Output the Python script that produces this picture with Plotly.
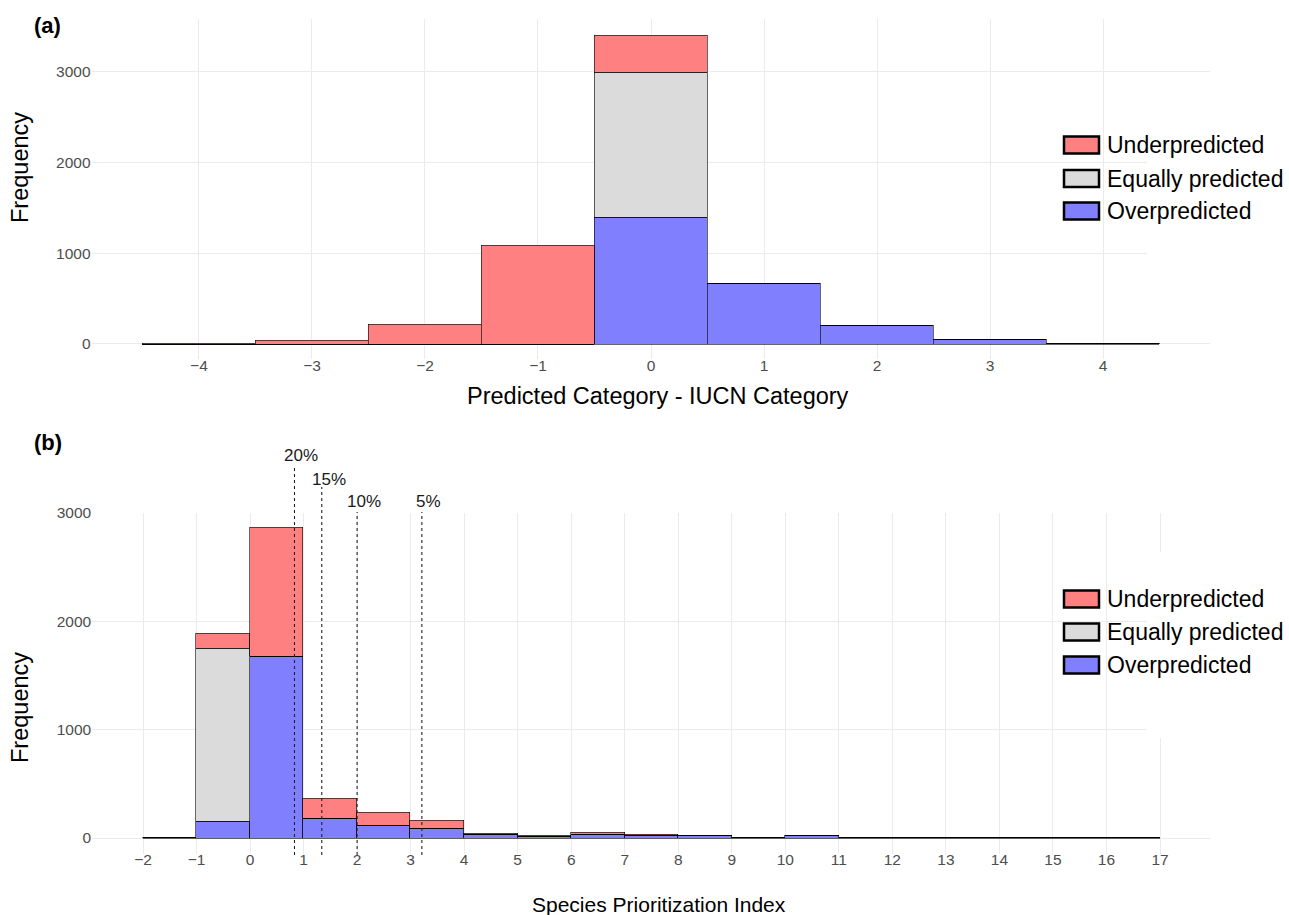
import plotly.graph_objects as go

W, H = 1289, 915

# ---------------- data: panel (a) ----------------
cat_a = [-4, -3, -2, -1, 0, 1, 2, 3, 4]
under_a = [5, 35, 214, 1092, 408, 0, 0, 0, 0]
equal_a = [0, 0, 0, 0, 1600, 0, 0, 0, 0]
over_a = [0, 0, 0, 0, 1401, 672, 202, 52, 3]

# ---------------- data: panel (b) ----------------
bin_left_b = list(range(-2, 17))
under_b = [0, 139, 1185, 185, 123, 74, 4, 10, 20, 11, 3, 0, 2, 0, 5, 0, 0, 0, 0]
equal_b = [0, 1594, 0, 0, 0, 0, 0, 0, 0, 0, 0, 0, 0, 0, 0, 0, 0, 0, 0]
over_b = [1, 154, 1677, 179, 111, 89, 36, 15, 32, 20, 22, 1, 20, 1, 4, 1, 1, 1, 1]

thresholds = [0.83, 1.34, 2.0, 3.21]
threshold_labels = ["20%", "15%", "10%", "5%"]

ticks_a = [-4, -3, -2, -1, 0, 1, 2, 3, 4]
ticks_b = list(range(-2, 18))
ticks_y = [0, 1000, 2000, 3000]

series_names = ["Underpredicted", "Equally predicted", "Overpredicted"]
colors = {"Underpredicted": "#FF8080", "Equally predicted": "#DBDBDB", "Overpredicted": "#8080FF"}

FONT = "Liberation Sans, Arial, sans-serif"
OUT = "rgba(0,0,0,0.75)"


def px_x(p):
    return p / W


def px_y(p):
    return 1 - p / H


fig = go.Figure()

# stacked order: over (bottom), equal, under (top)
for name, vals in [("Overpredicted", over_a), ("Equally predicted", equal_a), ("Underpredicted", under_a)]:
    fig.add_trace(go.Bar(x=cat_a, y=vals, width=1, name=name, xaxis="x", yaxis="y",
                         marker=dict(color=colors[name], line=dict(color=OUT, width=0.8)),
                         showlegend=False))

centers_b = [l + 0.5 for l in bin_left_b]
for name, vals in [("Overpredicted", over_b), ("Equally predicted", equal_b), ("Underpredicted", under_b)]:
    fig.add_trace(go.Bar(x=centers_b, y=vals, width=1, name=name, xaxis="x2", yaxis="y2",
                         marker=dict(color=colors[name], line=dict(color=OUT, width=0.8)),
                         showlegend=False))

grid = "#EBEBEB"
tickfont = dict(family=FONT, size=15.5, color="#4D4D4D")
common = dict(showgrid=True, gridcolor=grid, gridwidth=1, zeroline=False, showline=False,
              ticks="", tickfont=tickfont, automargin=False)

shapes = []
annotations = []

# white patches that hide parts of the grid behind the legends (as in the reference)
for (y0, y1) in [(85, 271), (552, 738)]:
    shapes.append(dict(type="rect", xref="paper", yref="paper", x0=px_x(1147), x1=px_x(1289),
                       y0=px_y(y1), y1=px_y(y0), fillcolor="white", line=dict(width=0), layer="above"))

# threshold dashed lines in panel (b)
line_tops = [465, 487, 512, 512]
label_ys = [455.7, 479, 501.7, 501.7]
for t, lab, top, ly in zip(thresholds, threshold_labels, line_tops, label_ys):
    shapes.append(dict(type="line", xref="x2", yref="paper", x0=t, x1=t, y0=px_y(855), y1=px_y(top),
                       line=dict(color="#222222", width=1.1, dash="3px,3px"), layer="above"))
    annotations.append(dict(x=t, xref="x2", y=px_y(ly), yref="paper", text=lab, showarrow=False,
                            xanchor="center", yanchor="middle", xshift=7,
                            font=dict(family=FONT, size=17, color="#1A1A1A")))

# manual legends
for centers in [(145, 178.5, 211), (599, 632, 665)]:
    for name, cy in zip(series_names, centers):
        shapes.append(dict(type="rect", xref="paper", yref="paper", x0=px_x(1064), x1=px_x(1099),
                           y0=px_y(cy + 8.5), y1=px_y(cy - 8.5), fillcolor=colors[name],
                           line=dict(color="black", width=2.5), layer="above"))
        annotations.append(dict(x=px_x(1105), y=px_y(cy), xref="paper", yref="paper", text=name,
                                showarrow=False, xanchor="left", yanchor="middle",
                                font=dict(family=FONT, size=23, color="black")))

# axis titles & panel tags
title_font = dict(family=FONT, size=23.5, color="black")
annotations += [
    dict(x=px_x(658), y=px_y(396), xref="paper", yref="paper", text="Predicted Category - IUCN Category",
         showarrow=False, xanchor="center", yanchor="middle", font=title_font),
    dict(x=px_x(659), y=px_y(904), xref="paper", yref="paper", text="Species Prioritization Index",
         showarrow=False, xanchor="center", yanchor="middle", font=dict(family=FONT, size=21, color="black")),
    dict(x=px_x(20), y=px_y(168), xref="paper", yref="paper", text="Frequency", textangle=-90,
         showarrow=False, xanchor="center", yanchor="middle", font=title_font),
    dict(x=px_x(20), y=px_y(708), xref="paper", yref="paper", text="Frequency", textangle=-90,
         showarrow=False, xanchor="center", yanchor="middle", font=title_font),
    dict(x=px_x(47), y=px_y(25), xref="paper", yref="paper", text="<b>(a)</b>",
         showarrow=False, xanchor="center", yanchor="middle", font=dict(family=FONT, size=22, color="black")),
    dict(x=px_x(48), y=px_y(442), xref="paper", yref="paper", text="<b>(b)</b>",
         showarrow=False, xanchor="center", yanchor="middle", font=dict(family=FONT, size=22, color="black")),
]

fig.update_layout(
    width=W, height=H, margin=dict(l=0, r=0, t=0, b=0, pad=0, autoexpand=False),
    paper_bgcolor="white", plot_bgcolor="white",
    barmode="stack", bargap=0, showlegend=False,
    font=dict(family=FONT),
    xaxis=dict(domain=[px_x(91.6), px_x(1210.4)], range=[-4.95, 4.95], tickvals=ticks_a,
               anchor="y", **common),
    yaxis=dict(domain=[px_y(359.4), px_y(19.4)], range=[-170, 3580], tickvals=ticks_y,
               anchor="x", **common),
    xaxis2=dict(domain=[px_x(92.15), px_x(1210.85)], range=[-2.95, 17.95], tickvals=ticks_b,
                anchor="y2", **common),
    yaxis2=dict(domain=[px_y(853.5), px_y(512.5)], range=[-143, 3005], tickvals=ticks_y,
                anchor="x2", **common),
    shapes=shapes, annotations=annotations,
)
fig.update_xaxes(ticklabelstandoff=-5)

fig.write_html(
    "out.html",
    config={"displayModeBar": False},
    post_script="document.body.style.margin='0';document.body.style.padding='0';"
                "document.body.style.overflow='hidden';",
)
